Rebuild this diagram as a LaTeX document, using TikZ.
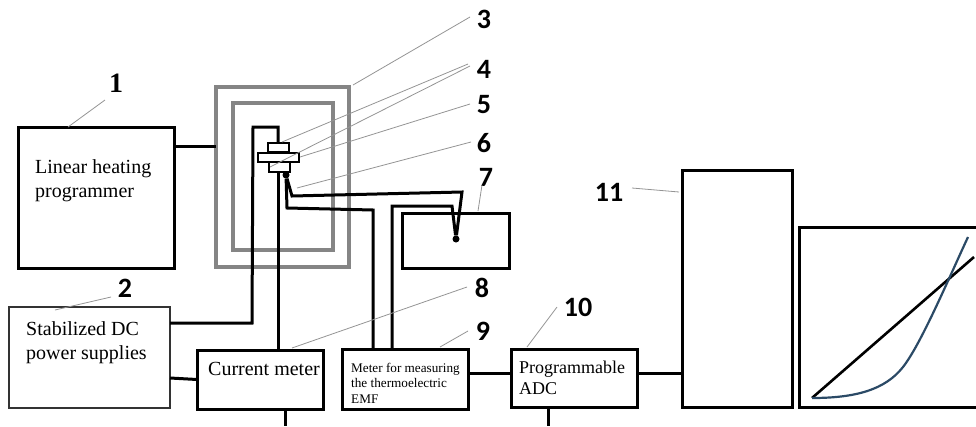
\documentclass[tikz,border=0pt]{standalone}
\usepackage{fontspec}
\setmainfont{Liberation Serif}
\newfontfamily\lblfont{Carlito}
\definecolor{curveblue}{HTML}{2B4A66}
\begin{document}
\begin{tikzpicture}[x=1pt,y=-1pt,
  blk/.style={draw=black,line width=3pt,rectangle,inner sep=0pt,outer sep=0pt},
  thinblk/.style={draw=black!80,line width=1.5pt,rectangle,inner sep=0pt,outer sep=0pt},
  part/.style={draw=black,line width=1.2pt,fill=white,rectangle,inner sep=0pt,outer sep=0pt},
  oven/.style={draw=black!48,line width=4.5pt,rectangle,inner sep=0pt,outer sep=0pt},
  wire/.style={draw=black,line width=3pt,line join=miter},
  lead/.style={draw=black!42,line width=0.8pt},
  num/.style={font=\lblfont\bfseries\fontsize{28}{28}\selectfont,inner sep=0pt},
  txt/.style={anchor=base west,inner sep=0pt,align=left,font=\fontsize{20}{24}\selectfont},
  dot/.style={circle,fill=black,inner sep=0pt,minimum size=7pt}]
\useasboundingbox (0,0) rectangle (976,426);
% boxes
\node[blk,minimum width=156pt,minimum height=141pt] (b1) at (96,197.5) {};
\node[thinblk,minimum width=161pt,minimum height=101pt] (b2) at (89.5,357.5) {};
\node[oven,minimum width=133pt,minimum height=180pt] (ov1) at (282.5,177) {};
\node[oven,minimum width=100pt,minimum height=147pt] (ov2) at (283,176.5) {};
\node[blk,minimum width=107pt,minimum height=55pt] (b7) at (455.5,240.5) {};
\node[blk,minimum width=126pt,minimum height=59pt] (b8) at (260,379.5) {};
\node[blk,minimum width=126pt,minimum height=60pt] (b9) at (405,379) {};
\node[blk,minimum width=126pt,minimum height=58pt] (b10) at (574,378) {};
\node[blk,minimum width=110pt,minimum height=237pt] (b11) at (737,288.5) {};
% heater stack wires
\coordinate (w1) at (252,323);
\coordinate (w2) at (253,127);
\coordinate (w3) at (278,127);
\coordinate (j1) at (287,208);
\coordinate (j2) at (373,210);
\coordinate (j3) at (292,196);
\coordinate (j4) at (462,192);
\coordinate (j5) at (452,206);
\coordinate (j6) at (392,206);
\node[part,minimum width=21pt,minimum height=9pt] (p1) at (278.5,147.5) {};
\node[part,minimum width=21pt,minimum height=10pt] (p3) at (279.5,167) {};
\node[dot] (d1) at (286,175) {};
\node[dot] (d2) at (456,239) {};
\draw[wire] ([yshift=34.5pt]b2.east) -- (w1) -- (w2) -- (w3) -- (p1.north -| w3);
\draw[wire] (p3.south -| w3) -- (b8.north -| w3);
\draw[wire] (d1) -- (j1) -- (j2) -- (b9.north -| j2);
\draw[wire] (d1) -- (j3) -- (j4) -- (d2);
\draw[wire] (d2) -- (j5) -- (j6) -- (b9.north -| j6);
\node[part,minimum width=41pt,minimum height=9pt] (p2) at (278.5,157.5) {};
% connectors
\draw[wire] ([yshift=51.5pt]b1.east) -- (ov1.west |- 0,146);
\draw[wire] ([yshift=-20.5pt]b2.east) -- (b8.west);
\draw[wire] (b8.south -| 285.5,0) -- (285.5,426);
\draw[wire] ([yshift=6pt]b9.east) -- ([yshift=5pt]b10.west);
\draw[wire] ([yshift=5pt]b10.east) -- (b11.west |- 0,373);
\draw[wire] (b10.south -| 548,0) -- (548,426);
% graph
\draw[line width=3pt] (976,227) -- (799,227) -- (799,407) -- (976,407);
\draw[line width=2.6pt,draw=black] (812,398) -- (974,257);
\draw[line width=2.2pt,draw=curveblue] (812,398) .. controls (855,398) and (885,390) .. (903,367) .. controls (921,344) and (948,280) .. (968,237);
% leaders and numbers
\node[num,font=\bfseries\fontsize{28}{28}\selectfont] (n1) at (116,83) {1};
\node[num] (n2) at (125,288) {2};
\node[num] (n3) at (484,19) {3};
\node[num] (n4) at (484,69) {4};
\node[num] (n5) at (484,105) {5};
\node[num] (n6) at (484,143) {6};
\node[num] (n7) at (486,177) {7};
\node[num] (n8) at (482,288) {8};
\node[num] (n9) at (483,331) {9};
\node[num] (n10) at (578,307) {10};
\node[num] (n11) at (609,192) {11};
\draw[lead] (68,127) -- (105,100);
\draw[lead] (55,310) -- (111,297);
\draw[lead] (353,85) -- (470,17);
\draw[lead] (282,142) -- (468,64);
\draw[lead] (270,167) -- (470,66);
\draw[lead] (300,157) -- (470,104);
\draw[lead] (297,188) -- (471,142);
\draw[lead] (478,211) -- (482,185);
\draw[lead] (292,348) -- (467,287);
\draw[lead] (440,347) -- (468,331);
\draw[lead] (527,347) -- (557,307);
\draw[lead] (632,188) -- (679,192);
% texts
\node[txt] (t1a) at (35,173) {Linear heating};
\node[txt] (t1b) at (35,197) {programmer};
\node[txt] (t2a) at (26,335) {Stabilized DC};
\node[txt] (t2b) at (26,359) {power supplies};
\node[txt] (t8) at (208,375) {Current meter};
\node[txt,font=\fontsize{13.2}{15}\selectfont] (t9a) at (351,372) {Meter for measuring};
\node[txt,font=\fontsize{13.2}{15}\selectfont] (t9b) at (351,387) {the thermoelectric};
\node[txt,font=\fontsize{13.2}{15}\selectfont] (t9c) at (351,403) {EMF};
\node[txt,font=\fontsize{18}{22}\selectfont] (t10a) at (519,373) {Programmable};
\node[txt,font=\fontsize{18}{22}\selectfont] (t10b) at (519,394) {ADC};
\end{tikzpicture}
\end{document}
